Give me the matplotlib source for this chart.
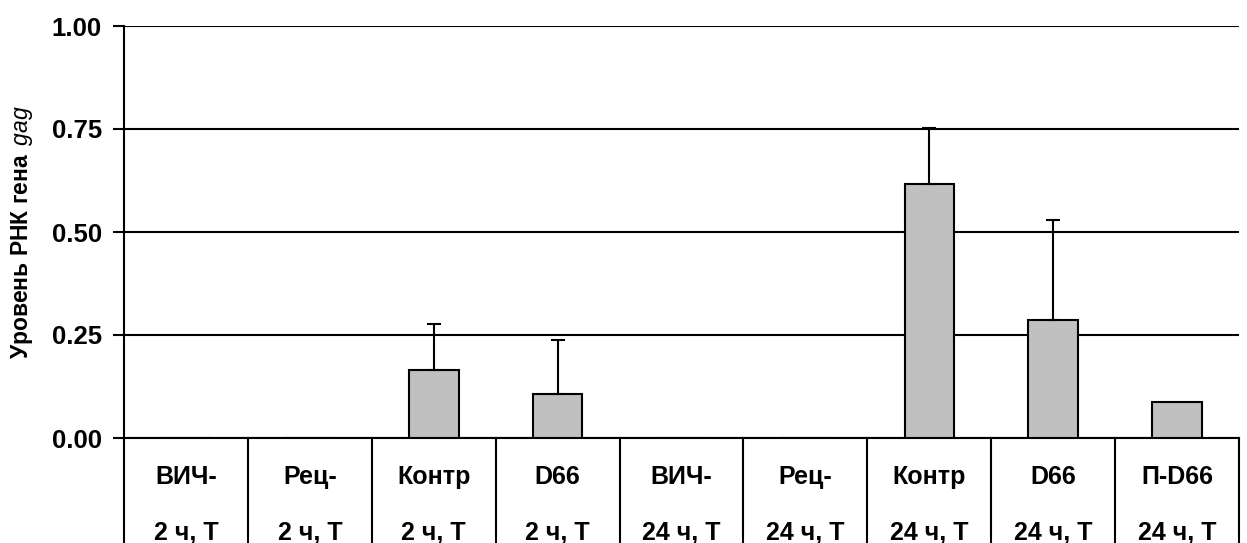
import matplotlib
matplotlib.use('Agg')
import matplotlib.pyplot as plt

plt.rcParams['font.family'] = ['Liberation Sans', 'DejaVu Sans']
plt.rcParams['mathtext.fontset'] = 'custom'
plt.rcParams['mathtext.it'] = 'Liberation Sans:italic'
plt.rcParams['mathtext.rm'] = 'Liberation Sans'

# Group labels (two rows under each bar) and measured gag RNA levels
top_labels = ['ВИЧ-', 'Рец-', 'Контр', 'D66', 'ВИЧ-', 'Рец-', 'Контр', 'D66', 'П-D66']
bottom_labels = ['2 ч, Т', '2 ч, Т', '2 ч, Т', '2 ч, Т',
                 '24 ч, Т', '24 ч, Т', '24 ч, Т', '24 ч, Т', '24 ч, Т']
levels = [0.0, 0.0, 0.165, 0.106, 0.0, 0.0, 0.617, 0.287, 0.087]
errors = [0.0, 0.0, 0.112, 0.131, 0.0, 0.0, 0.136, 0.243, 0.0]
yticks = [0.0, 0.25, 0.50, 0.75, 1.00]

W, H = 1247, 543
fig = plt.figure(figsize=(W / 100, H / 100), dpi=100)
left, right = 124 / W, 1239 / W
ax = fig.add_axes([left, 105 / H, right - left, (438 - 26) / H])
tab = fig.add_axes([left, 0, right - left, 105 / H])

x = list(range(len(levels)))
lw = 1.5

ax.bar(x, levels, width=0.4, color='#c0c0c0', edgecolor='black', linewidth=lw, zorder=3)
for xi, v, e in zip(x, levels, errors):
    if e > 0:
        ax.errorbar(xi, v, yerr=[[0], [e]], fmt='none', ecolor='black',
                    elinewidth=lw, capsize=5, capthick=lw, zorder=4)

ax.set_xlim(-0.5, len(levels) - 0.5)
ax.set_ylim(0, 1)
ax.set_yticks(yticks)
ax.set_yticklabels([f'{t:.2f}' for t in yticks], fontsize=18.5, fontweight='bold')
ax.set_xticks([])
ax.tick_params(axis='y', length=8, width=lw, direction='out', pad=8)
ax.grid(axis='y', color='black', linewidth=lw, zorder=1)
for s in ['top', 'right']:
    ax.spines[s].set_visible(False)
for s in ['left', 'bottom']:
    ax.spines[s].set_linewidth(lw)
ax.set_ylabel(r'Уровень РНК гена $\,\mathit{gag}$', fontsize=16.5, fontweight='bold', labelpad=12)

# table of group labels below the axis
tab.set_xlim(-0.5, len(levels) - 0.5)
tab.set_ylim(0, 105)
tab.axis('off')
for b in range(len(levels) + 1):
    tab.axvline(b - 0.5, color='black', linewidth=lw, clip_on=False)
for xi, t1, t2 in zip(x, top_labels, bottom_labels):
    tab.text(xi, 59, t1, ha='center', va='baseline', fontsize=18, fontweight='bold')
    tab.text(xi, 3, t2, ha='center', va='baseline', fontsize=18, fontweight='bold')

fig.savefig('out.png', dpi=100)
